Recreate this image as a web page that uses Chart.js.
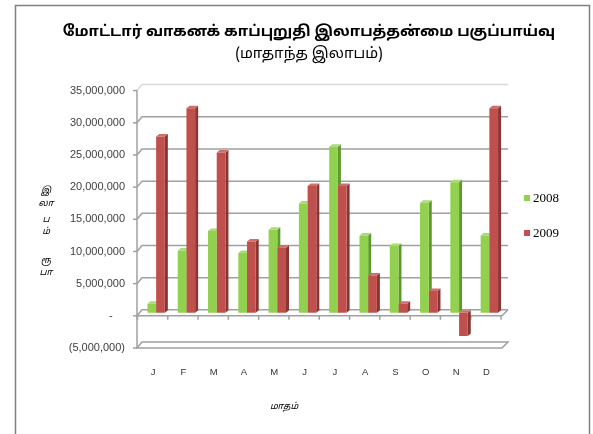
<!DOCTYPE html>
<html>
<head>
<meta charset="utf-8">
<script src="https://cdn.jsdelivr.net/npm/chart.js@4.4.1/dist/chart.umd.min.js"></script>
<style>
  html, body { margin: 0; padding: 0; background: #fff; }
</style>
</head>
<body>
<canvas id="myChart" width="593" height="434"></canvas>
<script>
const months = ['J', 'F', 'M', 'A', 'M', 'J', 'J', 'A', 'S', 'O', 'N', 'D'];
const profit2008 = [1400000, 9700000, 12700000, 9300000, 12900000, 17000000, 25800000, 12000000, 10400000, 17100000, 20300000, 12000000];
const profit2009 = [27400000, 31800000, 24900000, 11100000, 10100000, 19700000, 19700000, 5800000, 1400000, 3400000, -3600000, 31800000];
const yTicks = [-5000000, 0, 5000000, 10000000, 15000000, 20000000, 25000000, 30000000, 35000000];
const yTitleChars = ['இ', 'லா', 'ப', 'ம்', 'ரூ', 'பா'];
const tamilFont = "'Noto Sans Tamil', 'Lohit Tamil', 'Latha', sans-serif";

function fmt(v) {
  if (v === 0) return '-    ';
  const s = Math.abs(v).toLocaleString('en-US');
  return v < 0 ? '(' + s + ')' : s;
}

// 3d look: walls, floor and bar sides
const fake3d = {
  id: 'fake3d',
  beforeDraw(chart) {
    const c = chart.ctx;
    c.save();
    c.fillStyle = '#fff';
    c.fillRect(0, 0, chart.width, chart.height);
    c.strokeStyle = '#808080';
    c.lineWidth = 1.5;
    c.strokeRect(15.5, 5.5, 574, 460);
    c.restore();
  },
  beforeDatasetsDraw(chart) {
    const c = chart.ctx, a = chart.chartArea, ys = chart.scales.y;
    const fl = a.left - 4, bl = a.left + 1, br = a.right + 3.5, fr = a.right - 2.5;
    const top = ys.getPixelForValue(yTicks[yTicks.length - 1]);
    const p0 = ys.getPixelForValue(0);
    const pb = ys.getPixelForValue(yTicks[0]);
    c.save();
    c.lineWidth = 1.5;

    // bottom plate
    c.strokeStyle = '#a0a0a0';
    c.beginPath();
    c.moveTo(fl, pb + 3); c.lineTo(fr, pb + 3); c.lineTo(br, pb - 3); c.lineTo(bl, pb - 3); c.closePath();
    c.stroke();

    // gridlines on the back wall
    yTicks.forEach((v, i) => {
      if (i === 0) return;
      const p = ys.getPixelForValue(v);
      c.strokeStyle = i === yTicks.length - 1 ? '#d9d9d9' : '#a0a0a0';
      c.beginPath(); c.moveTo(fl, p + 3); c.lineTo(bl, p - 3); c.lineTo(br, p - 3); c.stroke();
      c.strokeStyle = '#a0a0a0';
      c.beginPath(); c.moveTo(fl - 4, p + 3); c.lineTo(fl, p + 3); c.stroke();
    });
    c.beginPath(); c.moveTo(fl - 4, pb + 3); c.lineTo(fl, pb + 3); c.stroke();

    // front axis
    c.strokeStyle = '#a0a0a0';
    c.beginPath(); c.moveTo(fl, top + 3); c.lineTo(fl, pb + 3); c.stroke();

    // floor at zero
    c.beginPath(); c.moveTo(fl, p0 + 3); c.lineTo(fr, p0 + 3); c.lineTo(br, p0 - 3); c.stroke();
    const step = (a.right - a.left) / months.length;
    for (let i = 0; i <= months.length; i++) {
      const bx = Math.min(a.left + i * step - 3.5, fr);
      c.beginPath(); c.moveTo(bx, p0 + 3); c.lineTo(bx, p0 + 7); c.stroke();
    }

    // bar sides and tops
    const dx = 3, dy = 2.5;
    chart.data.datasets.forEach((ds, i) => {
      chart.getDatasetMeta(i).data.forEach(b => {
        const l = b.x - b.width / 2, r = b.x + b.width / 2;
        const t = Math.min(b.y, b.base), btm = Math.max(b.y, b.base);
        c.fillStyle = ds.sideColor;
        c.beginPath();
        c.moveTo(r, t); c.lineTo(r + dx, t - dy); c.lineTo(r + dx, btm - dy); c.lineTo(r, btm); c.closePath();
        c.fill();
        c.fillStyle = ds.topColor;
        c.beginPath();
        c.moveTo(l, t); c.lineTo(l + dx, t - dy); c.lineTo(r + dx, t - dy); c.lineTo(r, t); c.closePath();
        c.fill();
      });
    });
    c.restore();
  },
  afterDraw(chart) {
    const c = chart.ctx;
    c.save();
    // legend
    c.textBaseline = 'middle';
    c.textAlign = 'left';
    c.font = "13px 'Liberation Serif', serif";
    chart.data.datasets.forEach((ds, i) => {
      const yy = 198 + i * 35;
      c.fillStyle = ds.backgroundColor;
      c.fillRect(524, yy - 3, 6, 6);
      c.fillStyle = '#000';
      c.fillText(ds.label, 533, yy + 0.5);
    });
    // axis titles
    c.fillStyle = '#000';
    c.textAlign = 'center';
    c.font = 'italic 9px ' + tamilFont;
    c.fillText('மாதம்', 284, 407);
    const ty = [191, 204, 220, 232, 261, 273];
    yTitleChars.forEach((ch, i) => c.fillText(ch, 46, ty[i]));
    c.restore();
  }
};

const ctx = document.getElementById('myChart').getContext('2d');
const myChart = new Chart(ctx, {
  type: 'bar',
  data: {
    labels: months,
    datasets: [{
      label: '2008',
      data: profit2008,
      backgroundColor: '#92D050',
      sideColor: '#5E9A2B',
      topColor: '#A8DC75',
      categoryPercentage: 0.575,
      barPercentage: 1
    }, {
      label: '2009',
      data: profit2009,
      backgroundColor: '#C0504D',
      sideColor: '#8A3532',
      topColor: '#CF6E6B',
      categoryPercentage: 0.575,
      barPercentage: 1
    }]
  },
  options: {
    responsive: false,
    animation: false,
    devicePixelRatio: 1,
    layout: { padding: { left: 25, right: 0, top: 0, bottom: 0 } },
    plugins: {
      legend: { display: false },
      tooltip: { enabled: false },
      title: {
        display: true,
        text: 'மோட்டார் வாகனக் காப்புறுதி இலாபத்தன்மை பகுப்பாய்வு',
        color: '#000',
        font: { family: tamilFont, size: 15, weight: 'bold', lineHeight: 1.2 },
        padding: { top: 24, bottom: 3.6 }
      },
      subtitle: {
        display: true,
        text: '(மாதாந்த இலாபம்)',
        color: '#000',
        font: { family: tamilFont, size: 15, lineHeight: 1.2 },
        padding: { top: 0, bottom: 24 }
      }
    },
    scales: {
      x: {
        grid: { display: false, drawTicks: false },
        border: { display: false },
        ticks: { color: '#333', font: { family: "'Liberation Sans', sans-serif", size: 9.5 }, padding: 22, labelOffset: -3 },
        afterFit: s => { s.height = 89; }
      },
      y: {
        min: yTicks[0],
        max: yTicks[yTicks.length - 1],
        grid: { display: false, drawTicks: false },
        border: { display: false },
        afterBuildTicks: s => { s.ticks = yTicks.map(v => ({ value: v })); },
        ticks: { color: '#404040', font: { family: "'Liberation Sans', sans-serif", size: 11 }, padding: 16, labelOffset: 3, callback: v => fmt(v) },
        afterFit: s => { s.width = 116; }
      },
      y2: {
        position: 'right',
        grid: { display: false, drawTicks: false },
        border: { display: false },
        ticks: { display: false },
        afterFit: s => { s.width = 88.5; }
      }
    }
  },
  plugins: [fake3d]
});
</script>
</body>
</html>
